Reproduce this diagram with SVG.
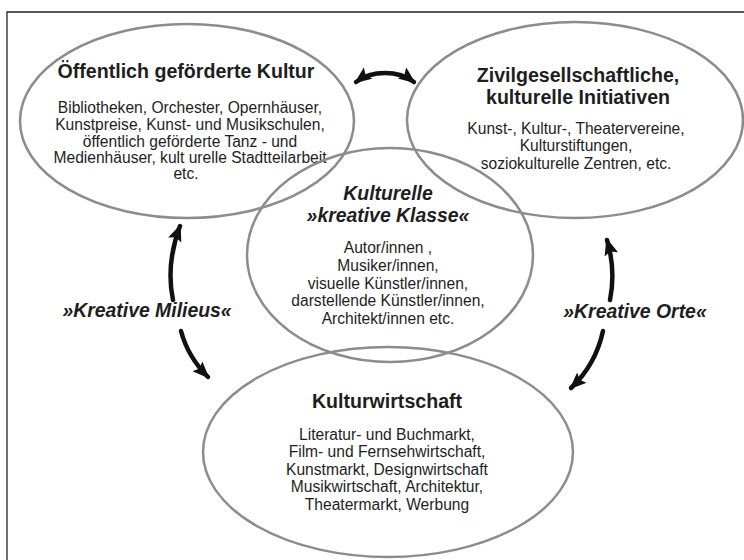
<svg xmlns="http://www.w3.org/2000/svg" width="744" height="560" viewBox="0 0 744 560">
<style>
.frame{fill:none;stroke:#222;stroke-width:1.3}
.ell{fill:none;stroke:#8c8c8c;stroke-width:2.5}
.t{font-family:"Liberation Sans",Arial,sans-serif;font-weight:bold;font-size:19.6px;fill:#1e1e1e;text-anchor:middle}
.ti{font-family:"Liberation Sans",Arial,sans-serif;font-weight:bold;font-style:italic;font-size:19.4px;fill:#1e1e1e;text-anchor:middle}
.b{font-family:"Liberation Sans",Arial,sans-serif;font-size:15.6px;fill:#1e1e1e;text-anchor:middle}
.arr{fill:none;stroke:#111;stroke-width:4.5;stroke-linecap:round}
</style>
<defs>
<marker id="ah" markerUnits="userSpaceOnUse" markerWidth="20" markerHeight="16" refX="15" refY="7" orient="auto-start-reverse" viewBox="0 0 20 16">
<path d="M0,0 L17,7 L0,14 L3,7 z" fill="#111"/>
</marker>
</defs>
<path class="frame" d="M7,560 L7,12 L744,12"/>
<g id="node-oeffentlich">
<ellipse class="ell" cx="187" cy="121" rx="167" ry="97"/>
<text class="t" x="186" y="78">Öffentlich geförderte Kultur</text>
<text class="b" x="190" y="113">Bibliotheken, Orchester, Opernhäuser,</text>
<text class="b" x="190" y="130">Kunstpreise, Kunst- und Musikschulen,</text>
<text class="b" x="190" y="147">öffentlich geförderte Tanz - und</text>
<text class="b" x="190" y="163">Medienhäuser, kult urelle Stadtteilarbeit</text>
<text class="b" x="186" y="179">etc.</text>
</g>
<g id="node-zivil">
<ellipse class="ell" cx="575" cy="120" rx="168" ry="98"/>
<text class="t" x="578" y="82">Zivilgesellschaftliche,</text>
<text class="t" x="578" y="104">kulturelle Initiativen</text>
<text class="b" x="576" y="134">Kunst-, Kultur-, Theatervereine,</text>
<text class="b" x="576" y="151">Kulturstiftungen,</text>
<text class="b" x="576" y="169">soziokulturelle Zentren, etc.</text>
</g>
<g id="node-klasse">
<ellipse class="ell" cx="390" cy="255" rx="143" ry="107"/>
<text class="ti" x="388" y="200">Kulturelle</text>
<text class="ti" x="388" y="222">»kreative Klasse«</text>
<text class="b" x="388" y="253">Autor/innen ,</text>
<text class="b" x="388" y="271">Musiker/innen,</text>
<text class="b" x="388" y="289">visuelle Künstler/innen,</text>
<text class="b" x="388" y="306">darstellende Künstler/innen,</text>
<text class="b" x="388" y="324">Architekt/innen etc.</text>
</g>
<g id="node-wirtschaft">
<ellipse class="ell" cx="388" cy="452" rx="185" ry="105"/>
<text class="t" x="387" y="408">Kulturwirtschaft</text>
<text class="b" x="387" y="440">Literatur- und Buchmarkt,</text>
<text class="b" x="387" y="457">Film- und Fernsehwirtschaft,</text>
<text class="b" x="387" y="475">Kunstmarkt, Designwirtschaft</text>
<text class="b" x="387" y="492">Musikwirtschaft, Architektur,</text>
<text class="b" x="387" y="510">Theatermarkt, Werbung</text>
</g>
<g id="connectors">
<path class="arr" d="M356,82 C372,70 398,70 414,82" marker-start="url(#ah)" marker-end="url(#ah)"/>
<path class="arr" d="M173,300 C168,276 171,250 180,226" marker-end="url(#ah)"/>
<path class="arr" d="M181,331 C186,350 195,364 208,377" marker-end="url(#ah)"/>
<path class="arr" d="M610,300 C614,280 613,260 607,240" marker-end="url(#ah)"/>
<path class="arr" d="M603,331 C598,354 588,372 571,388" marker-end="url(#ah)"/>
<text class="ti" x="147" y="317">»Kreative Milieus«</text>
<text class="ti" x="635" y="318">»Kreative Orte«</text>
</g>
</svg>
